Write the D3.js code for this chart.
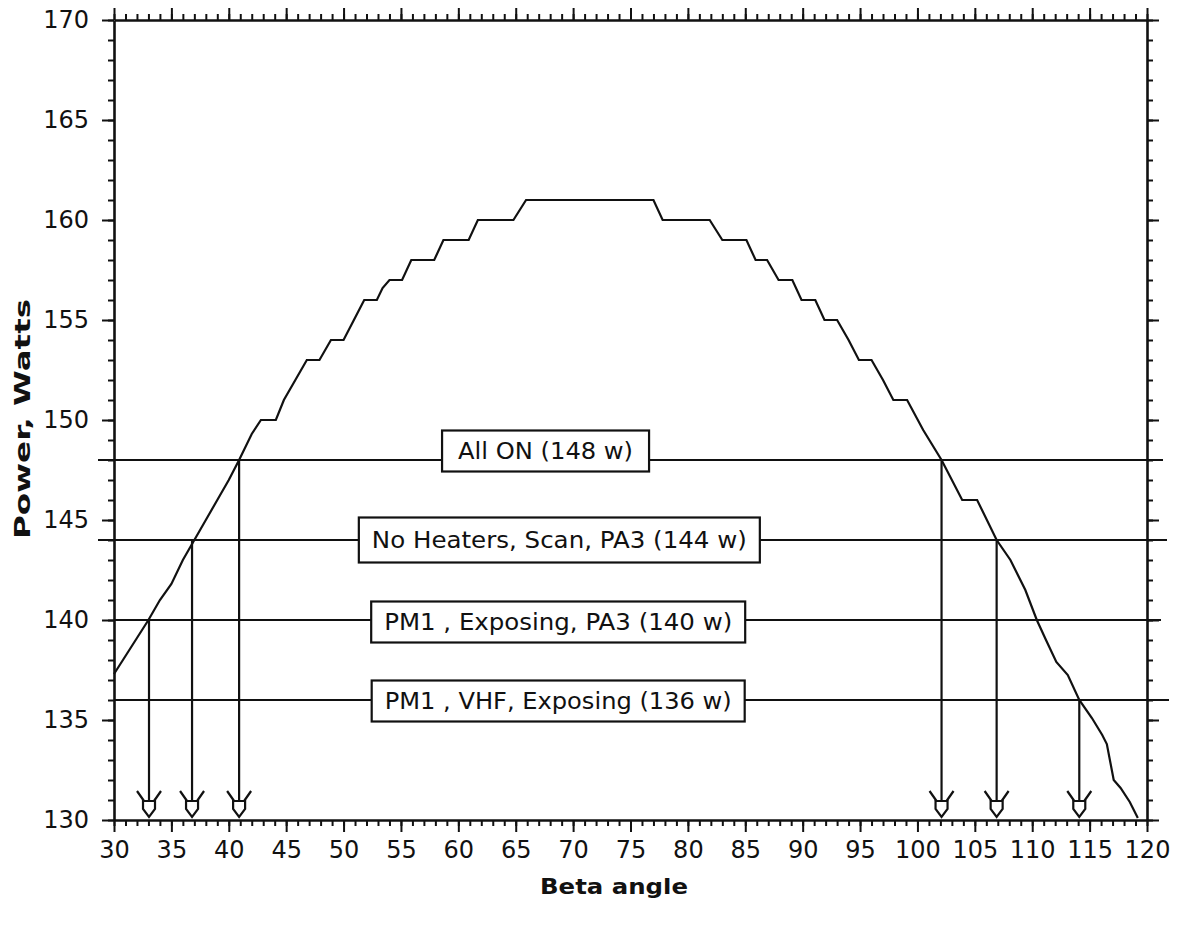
<!DOCTYPE html>
<html lang="en">
<head>
  <meta charset="UTF-8">
  <title>Power vs Beta angle</title>
  <script src="https://d3js.org/d3.v7.min.js"></script>
  <style>
    body { margin: 0; background: #fff; }
    text { font-family: "DejaVu Sans", sans-serif; fill: #111; }
    .axis path, .axis line { stroke: #111; stroke-width: 2; }
    .axis path { stroke-width: 2.6; }
    .axis text { font-size: 24px; }
    .title { font-weight: bold; font-size: 21px; }
  </style>
</head>
<body>
<script>
// curve (beta angle in degrees, power in watts)
var beta = [30, 31, 32, 33, 34, 35, 36, 37, 38, 39, 40, 40.9, 42, 42.8, 44.1, 44.8, 45.8, 46.8, 47.9,
  48.9, 50, 50.9, 51.8, 52.9, 53.4, 54, 55.1, 55.9, 57.9, 58.7, 60.9, 61.7, 64.8, 65.9, 77,
  77.8, 81.9, 83, 85.1, 85.9, 86.9, 87.9, 89.1, 89.9, 91.1, 91.9, 93, 94, 94.9, 96, 97, 97.9,
  99.1, 100.5, 102.1, 103.9, 105.2, 106.9, 108.1, 109.4, 110.4, 111.2, 112.1, 113.1, 114.1,
  115.2, 116.1, 116.5, 117.1, 117.7, 118.5, 119.2];
var power = [137.3, 138.2, 139.1, 140, 141, 141.8, 143, 144, 145, 146, 147, 148, 149.3, 150, 150, 151, 152, 153, 153,
  154, 154, 155, 156, 156, 156.6, 157, 157, 158, 158, 159, 159, 160, 160, 161, 161,
  160, 160, 159, 159, 158, 158, 157, 157, 156, 156, 155, 155, 154, 153, 153, 152, 151,
  151, 149.5, 148, 146, 146, 144, 143, 141.5, 140, 139, 137.9, 137.25, 136,
  135.1, 134.25, 133.8, 132, 131.6, 130.9, 130.1];

// power budget levels
var levelWatts = [148, 144, 140, 136];
var levelLabels = ["All ON (148 w)", "No Heaters, Scan, PA3 (144 w)", "PM1 , Exposing, PA3 (140 w)", "PM1 , VHF, Exposing (136 w)"];

// where the curve crosses a level (arrows down to the axis)
var crossBeta = [33.05, 36.8, 40.9, 102.1, 106.9, 114.1];
var crossWatts = [140, 144, 148, 148, 144, 136];

var xTicks = d3.range(30, 121, 5);
var yTicks = d3.range(130, 171, 5);

var W = 1185, H = 934;
var svg = d3.select("body").append("svg").attr("width", W).attr("height", H);

var x = d3.scaleLinear().domain([30, 120]).range([114, 1147]);
var y = d3.scaleLinear().domain([130, 170]).range([820, 20]);

// axes on all four sides: minor ticks every unit, major every 5
function addAxis(axisFn, scale, major, minor, transform, labels) {
  var g = svg.append("g").attr("class", "axis").attr("transform", transform);
  g.call(axisFn(scale).tickValues(minor).tickSize(6).tickSizeOuter(0).tickFormat(""));
  var g2 = svg.append("g").attr("class", "axis").attr("transform", transform);
  g2.call(axisFn(scale).tickValues(major).tickSize(12).tickSizeOuter(0)
    .tickPadding(labels ? 4 : 0).tickFormat(labels ? d3.format("d") : ""));
  g2.select(".domain").remove();
  return g2;
}
var xMinor = d3.range(30, 121, 1), yMinor = d3.range(130, 171, 1);
var bottom = addAxis(d3.axisBottom, x, xTicks, xMinor, "translate(0," + y(130) + ")", true);
bottom.selectAll("text").attr("dy", "0.9em");
addAxis(d3.axisTop, x, xTicks, xMinor, "translate(0," + y(170) + ")", false);
var left = addAxis(d3.axisLeft, y, yTicks, yMinor, "translate(" + x(30) + ",0)", true);
left.selectAll("text").attr("x", -25);
addAxis(d3.axisRight, y, yTicks, yMinor, "translate(" + x(120) + ",0)", false);

// level lines (slightly past the frame like the original)
var over = [[16, 16], [16, 20], [0, 14], [0, 22]];
svg.selectAll(".level").data(levelWatts).enter().append("line")
  .attr("class", "level")
  .attr("x1", function(d, i) { return x(30) - over[i][0]; })
  .attr("x2", function(d, i) { return x(120) + over[i][1]; })
  .attr("y1", function(d) { return y(d); })
  .attr("y2", function(d) { return y(d); })
  .attr("stroke", "#111").attr("stroke-width", 2.2);

// curve
var line = d3.line()
  .x(function(d, i) { return x(beta[i]); })
  .y(function(d) { return y(d); });
svg.append("path").datum(power)
  .attr("d", line)
  .attr("fill", "none").attr("stroke", "#111").attr("stroke-width", 2.2)
  .attr("stroke-linejoin", "miter");

// arrows
var tipY = y(130) - 3;
crossBeta.forEach(function(b, i) {
  var cx = x(b);
  var g = svg.append("g").attr("stroke", "#111").attr("stroke-width", 2.2).attr("fill", "none");
  g.append("line").attr("x1", cx).attr("x2", cx).attr("y1", y(crossWatts[i])).attr("y2", tipY - 15);
  g.append("path").attr("d", "M" + (cx - 12) + "," + (tipY - 26) + " L" + (cx - 5) + "," + (tipY - 16) +
    " M" + (cx + 12) + "," + (tipY - 26) + " L" + (cx + 5) + "," + (tipY - 16));
  g.append("path").attr("fill", "#fff")
    .attr("d", "M" + (cx - 6) + "," + (tipY - 16) + " L" + (cx + 6) + "," + (tipY - 16) + " L" + (cx + 6) + "," +
      (tipY - 8) + " L" + cx + "," + tipY + " L" + (cx - 6) + "," + (tipY - 8) + "Z");
});

// labels in boxes, text stretched to the width it has in the original
var labelBeta = [67.6, 68.8, 68.7, 68.7];
var labelShift = [-9, 0, 2, 1];
var labelWidth = [175, 375, 348, 347];
levelLabels.forEach(function(t, i) {
  var g = svg.append("g").attr("transform", "translate(" + x(labelBeta[i]) + "," + (y(levelWatts[i]) + labelShift[i]) + ")");
  var rect = g.append("rect").attr("fill", "#fff").attr("stroke", "#111").attr("stroke-width", 2.2);
  var txt = g.append("text").attr("text-anchor", "middle").attr("dy", "0.36em")
    .style("font-size", "23px")
    .attr("textLength", labelWidth[i]).attr("lengthAdjust", "spacingAndGlyphs")
    .text(t);
  var padX = i === 0 ? 16 : 13, h = i === 1 ? 45 : 41;
  rect.attr("x", -labelWidth[i] / 2 - padX).attr("y", -h / 2)
    .attr("width", labelWidth[i] + 2 * padX).attr("height", h);
});

// axis titles
svg.append("text").attr("class", "title")
  .attr("text-anchor", "middle")
  .attr("transform", "translate(30," + 419 + ") rotate(-90)")
  .attr("textLength", 240).attr("lengthAdjust", "spacingAndGlyphs")
  .text("Power, Watts");
svg.append("text").attr("class", "title")
  .attr("text-anchor", "middle")
  .attr("x", 614).attr("y", 894)
  .attr("textLength", 148).attr("lengthAdjust", "spacingAndGlyphs")
  .text("Beta angle");
</script>
</body>
</html>
